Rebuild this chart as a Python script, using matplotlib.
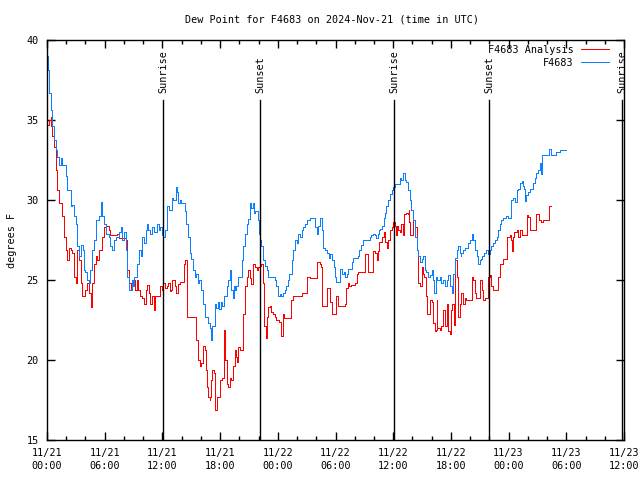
import numpy as np
import matplotlib
matplotlib.use("Agg")
import matplotlib.pyplot as plt
import matplotlib.transforms as mtransforms


# Observed dew point (F4683), hours since 11/21 00:00 UTC
obs_hours = [0, 0.1, 0.2, 0.4, 0.55, 0.73, 0.9, 1.07, 1.25, 1.5, 1.6, 1.94, 2.1, 2.46, 2.6, 2.8, 2.98,
             3.15, 3.33, 3.5, 3.7, 3.85, 4.0, 4.2, 4.37, 4.5, 4.7, 4.9, 5.06, 5.4, 5.58, 5.75, 5.9, 6.1,
             6.45, 6.6, 6.8, 6.97, 7.15, 7.5, 7.65, 7.8, 8.0, 8.2, 8.35, 8.5, 8.8, 8.9, 9.0, 9.4, 9.6,
             9.75, 9.9, 10.05, 10.25, 10.4, 10.55, 10.7, 10.9, 11.1, 11.45, 11.6, 11.8, 11.95, 12.1, 12.3,
             12.5, 12.7, 12.96, 13.1, 13.4, 13.5, 13.65, 13.8, 13.9, 14.35, 14.5, 14.7, 14.87, 15.0, 15.2,
             15.35, 15.5, 15.7, 15.85, 16.0, 16.25, 16.4, 16.75, 16.95, 17.05, 17.2, 17.47, 17.6, 17.75,
             17.9, 18.05, 18.2, 18.4, 18.7, 18.85, 19.0, 19.15, 19.3, 19.4, 19.55, 19.7, 19.9, 20.25,
             20.4, 20.6, 20.8, 20.95, 21.1, 21.25, 21.4, 21.5, 21.6, 21.97, 22.05, 22.15, 22.3, 22.5,
             22.65, 22.85, 23.0, 23.7, 23.85, 24.05, 24.2, 24.35, 24.5, 24.7, 24.9, 25.05, 25.2, 25.45,
             25.6, 25.8, 25.95, 26.1, 26.3, 26.5, 26.65, 26.8, 27.0, 27.35, 27.85, 28.04, 28.2, 28.4,
             28.55, 28.66, 28.9, 29.1, 29.3, 29.45, 29.6, 29.8, 29.95, 30.1, 30.5, 30.7, 30.85, 31.0,
             31.2, 31.35, 31.7, 31.85, 32.3, 32.45, 32.7, 32.9, 33.55, 33.7, 33.85, 34.1, 34.25, 34.4,
             34.55, 34.65, 34.8, 35.0, 35.15, 35.3, 35.5, 35.7, 35.85, 36.0, 36.2, 36.7, 36.85, 37.05,
             37.2, 37.35, 37.55, 37.75, 37.9, 38.1, 38.25, 38.45, 38.6, 38.8, 38.95, 39.1, 39.3, 39.45,
             39.65, 39.8, 40.0, 40.17, 40.25, 40.4, 40.6, 40.85, 41.0, 41.2, 41.4, 41.55, 41.75, 41.9,
             42.1, 42.25, 42.4, 42.6, 42.75, 42.9, 43.0, 43.1, 43.3, 43.5, 43.8, 43.95, 44.15, 44.3,
             44.5, 44.7, 44.85, 45.0, 45.1, 45.2, 45.4, 45.7, 45.85, 46.05, 46.2, 46.4, 46.55, 46.75,
             46.9, 47.1, 47.25, 47.4, 47.55, 47.75, 47.9, 48.3, 48.5, 48.65, 48.85, 49.0, 49.2, 49.35,
             49.5, 49.65, 49.75, 49.85, 50.0, 50.2, 50.55, 50.7, 50.9, 51.05, 51.25, 51.35, 51.45,
             52.25, 52.4, 52.95, 53.3, 54.0]
obs_dewpt = [39.0, 38.1, 36.7, 35.6, 34.6, 33.75, 33.1, 32.7, 32.2, 32.6, 32.2, 31.5, 30.6, 29.6, 29.7,
             29.0, 28.5, 27.1, 26.5, 27.2, 26.9, 25.6, 25.5, 25.0, 24.8, 25.6, 26.9, 27.5, 28.75, 29.0,
             29.9, 29.0, 28.5, 27.9, 27.7, 27.1, 26.9, 27.5, 27.7, 28.0, 28.3, 27.5, 28.0, 26.9, 25.2,
             24.4, 25.0, 24.6, 25.2, 26.0, 26.9, 26.5, 27.7, 27.3, 28.1, 28.5, 28.1, 27.9, 28.3, 28.0,
             28.5, 28.1, 28.3, 27.8, 27.7, 28.1, 29.6, 29.4, 30.1, 30.0, 30.8, 30.5, 29.8, 30.0, 29.8,
             29.3, 28.5, 27.7, 26.7, 26.3, 25.6, 25.2, 25.4, 24.8, 25.0, 24.4, 23.5, 22.7, 22.3, 22.0,
             21.25, 22.1, 23.5, 23.25, 23.6, 23.2, 23.6, 23.4, 24.0, 24.6, 25.0, 25.6, 24.4, 23.9, 24.6,
             24.4, 24.6, 25.2, 26.25, 27.1, 27.9, 28.5, 28.8, 29.8, 29.5, 29.8, 29.2, 29.3, 28.75, 27.9,
             27.5, 27.1, 26.25, 25.9, 25.6, 25.2, 25.0, 24.6, 24.0, 24.1, 24.0, 24.2, 24.4, 24.6, 25.0,
             25.4, 26.25, 26.9, 27.5, 27.3, 27.9, 27.7, 28.1, 28.3, 28.5, 28.75, 28.85, 28.3, 27.9,
             28.4, 28.85, 28.1, 27.0, 26.9, 26.7, 26.4, 26.6, 26.25, 25.8, 25.2, 24.9, 25.7, 25.4, 25.5,
             25.2, 25.4, 25.7, 26.1, 26.4, 26.5, 26.9, 27.2, 27.5, 27.7, 27.8, 27.9, 27.8, 27.6, 27.9,
             28.1, 28.2, 28.4, 28.85, 29.2, 29.6, 30.0, 30.4, 30.6, 30.8, 31.0, 31.35, 31.25, 31.7,
             31.25, 31.1, 30.6, 30.0, 29.4, 28.75, 27.7, 26.9, 26.5, 26.1, 26.3, 26.5, 25.6, 25.5, 25.2,
             25.3, 25.6, 25.0, 24.2, 25.2, 25.0, 25.2, 24.8, 25.0, 24.6, 25.0, 25.3, 24.6, 24.2, 25.4,
             26.35, 26.9, 27.1, 26.7, 26.5, 26.7, 26.9, 27.0, 27.3, 27.5, 27.9, 27.5, 26.9, 26.5, 26.0,
             26.25, 26.3, 26.5, 26.7, 26.9, 26.6, 26.9, 27.1, 27.3, 27.5, 27.7, 28.1, 28.5, 28.75,
             28.85, 28.9, 29.0, 28.85, 30.0, 30.1, 29.9, 30.6, 30.7, 31.05, 31.2, 30.9, 30.7, 29.95,
             30.3, 30.5, 30.7, 31.05, 31.35, 31.7, 31.9, 32.3, 31.6, 32.8, 33.2, 32.8, 33.0, 33.1, 33.1]

# Analysis dew point (F4683 Analysis)
ana_hours = [0, 0.2, 0.38, 0.45, 0.55, 0.72, 0.9, 1.07, 1.25, 1.6, 1.77, 1.94, 2.1, 2.27, 2.45, 2.62,
             2.8, 2.97, 3.15, 3.33, 3.5, 3.67, 4.0, 4.2, 4.37, 4.54, 4.7, 4.85, 5.06, 5.2, 5.38, 5.75,
             5.93, 6.1, 6.43, 6.6, 7.3, 7.5, 8.2, 8.35, 8.5, 8.7, 8.85, 9.2, 9.35, 9.5, 9.7, 9.9, 10.05,
             10.25, 10.4, 10.6, 10.75, 10.95, 11.1, 11.25, 11.8, 11.95, 12.1, 12.3, 12.45, 12.6, 12.75,
             12.9, 13.05, 13.3, 13.45, 13.6, 13.8, 14.2, 14.35, 14.6, 15.5, 15.75, 15.9, 16.05, 16.25,
             16.4, 16.5, 16.6, 16.75, 16.9, 17.0, 17.1, 17.2, 17.35, 17.45, 17.7, 17.95, 18.2, 18.4,
             18.55, 18.7, 18.85, 19.0, 19.15, 19.35, 19.55, 19.7, 19.8, 19.9, 20.05, 20.4, 20.6, 20.75,
             20.9, 21.1, 21.25, 21.45, 21.6, 21.8, 21.95, 22.15, 22.3, 22.5, 22.6, 22.74, 22.85, 23.0,
             23.15, 23.3, 23.5, 23.7, 23.85, 24.15, 24.3, 24.35, 24.5, 24.6, 25.4, 25.6, 26.55, 27.07,
             27.3, 28.04, 28.35, 28.45, 28.55, 28.63, 29.1, 29.4, 29.6, 30.1, 30.25, 31.0, 31.1, 31.3,
             31.45, 31.6, 32.0, 32.2, 32.35, 33.07, 33.4, 33.9, 34.15, 34.3, 34.4, 34.55, 34.8, 35.0,
             35.15, 35.35, 35.5, 35.7, 35.85, 36.0, 36.15, 36.25, 36.4, 36.5, 36.7, 36.85, 36.98, 37.1,
             37.35, 37.5, 37.6, 37.65, 37.75, 38.1, 38.25, 38.45, 38.55, 38.8, 38.95, 39.1, 39.25, 39.4,
             39.5, 39.8, 40.0, 40.17, 40.35, 40.5, 40.55, 40.6, 40.85, 41.0, 41.2, 41.35, 41.57, 41.7,
             41.9, 42.0, 42.15, 42.3, 42.4, 42.6, 42.75, 42.9, 43.1, 43.25, 43.45, 43.6, 44.15, 44.3,
             44.5, 44.65, 45.0, 45.2, 45.35, 45.55, 45.7, 45.9, 46.05, 46.2, 46.4, 46.9, 47.1, 47.45,
             47.8, 48.1, 48.25, 48.35, 48.45, 48.6, 48.85, 49.0, 49.2, 49.35, 49.9, 50.05, 50.2, 50.9,
             51.2, 51.4, 51.6, 52.2, 52.4]
ana_dewpt = [34.7, 35.0, 35.2, 34.6, 34.0, 33.3, 31.9, 30.6, 29.8, 29.0, 27.7, 26.9, 26.25, 27.0, 26.9,
             26.7, 25.2, 24.8, 26.9, 26.25, 24.8, 24.0, 24.4, 24.8, 24.2, 23.3, 24.8, 26.0, 26.5, 26.25,
             26.9, 27.7, 28.3, 28.4, 28.1, 27.8, 27.9, 27.6, 27.5, 25.6, 24.8, 24.4, 25.0, 24.4, 25.0,
             24.4, 24.0, 23.85, 23.5, 24.4, 24.7, 24.2, 23.5, 24.0, 23.1, 24.0, 24.6, 24.4, 24.8, 24.5,
             24.6, 24.8, 24.3, 24.4, 25.0, 24.6, 24.2, 24.75, 24.85, 26.0, 26.25, 22.7, 21.25, 20.0,
             19.6, 19.8, 20.9, 20.6, 19.4, 18.3, 17.7, 17.5, 17.7, 18.75, 19.4, 19.2, 16.9, 17.7, 18.75,
             18.9, 21.9, 20.0, 18.5, 18.3, 18.9, 18.75, 19.6, 20.6, 20.2, 19.9, 20.8, 20.6, 22.9, 24.6,
             25.2, 25.6, 25.1, 24.75, 26.0, 25.8, 25.6, 25.8, 25.9, 26.0, 24.8, 22.1, 21.35, 22.7, 23.3,
             23.4, 23.0, 22.85, 22.7, 22.5, 22.4, 22.1, 21.5, 22.85, 22.6, 23.75, 24.0, 24.2, 25.2,
             25.1, 26.1, 26.0, 25.8, 25.4, 23.4, 24.5, 23.6, 22.85, 24.0, 23.4, 23.5, 24.5, 24.8, 24.6,
             24.7, 24.8, 25.4, 25.5, 26.6, 25.5, 26.8, 26.7, 26.25, 26.8, 27.4, 27.7, 28.0, 27.4, 27.0,
             27.5, 28.1, 28.3, 28.6, 28.4, 27.8, 28.4, 28.1, 28.0, 28.5, 27.8, 29.1, 29.2, 29.1, 29.4,
             28.6, 27.8, 28.75, 28.3, 26.9, 24.8, 24.6, 25.8, 25.4, 25.2, 24.0, 22.9, 23.75, 23.6, 22.3,
             21.8, 21.9, 23.75, 22.0, 21.9, 22.1, 23.1, 22.1, 23.5, 21.8, 21.6, 23.1, 23.5, 22.2, 26.25,
             25.2, 22.7, 23.5, 24.2, 23.5, 23.9, 23.75, 25.2, 25.0, 24.2, 23.9, 25.0, 24.4, 23.75,
             23.85, 23.9, 25.2, 25.3, 24.6, 24.4, 25.2, 26.0, 26.3, 27.7, 27.8, 27.5, 26.8, 27.7, 28.0,
             28.1, 27.7, 28.1, 27.8, 29.05, 28.95, 28.1, 29.15, 28.75, 28.6, 28.75, 29.6, 29.6]

sun_hours = [12.06, 22.15, 36.08, 45.96, 59.8]
sun_labels = ["Sunrise", "Sunset", "Sunrise", "Sunset", "Sunrise"]

tick_hours = list(range(0, 61, 6))
tick_labels = ["11/21\n00:00", "11/21\n06:00", "11/21\n12:00", "11/21\n18:00",
               "11/22\n00:00", "11/22\n06:00", "11/22\n12:00", "11/22\n18:00",
               "11/23\n00:00", "11/23\n06:00", "11/23\n12:00"]

font = "DejaVu Sans Mono"
fs = 7.3
lw = 0.55  # one pixel wide, no antialiasing (gnuplot-like)

fig = plt.figure(figsize=(6.4, 4.8), dpi=100)
ax = fig.add_axes([47 / 640, 40 / 480, 577 / 640, 400 / 480])

ax.plot(ana_hours, ana_dewpt, color="#ff0000", lw=lw, drawstyle="steps-post",
        antialiased=False, label="F4683 Analysis")
ax.plot(obs_hours, obs_dewpt, color="#0a80ff", lw=lw, drawstyle="steps-post",
        antialiased=False, label="F4683")

# sunrise / sunset markers
trans = mtransforms.blended_transform_factory(ax.transData, ax.transAxes)
for h, lab in zip(sun_hours, sun_labels):
    ax.axvline(h, ymin=0, ymax=0.85, color="black", lw=1.0)
    ax.text(h, 0.868, lab, transform=trans, rotation=90, ha="center", va="bottom",
            family=font, fontsize=fs)

ax.set_xlim(0, 60)
ax.set_ylim(15, 40)
ax.set_xticks(tick_hours)
ax.set_xticklabels(tick_labels, family=font, fontsize=fs, linespacing=1.35)
ax.set_xticks(np.arange(0, 61, 2), minor=True)
ax.set_yticks([15, 20, 25, 30, 35, 40])
ax.set_yticklabels(["15", "20", "25", "30", "35", "40"], family=font, fontsize=fs)
ax.tick_params(which="both", direction="in", top=True, right=True, width=1.0)
ax.tick_params(which="major", length=6, pad=6)
ax.tick_params(which="minor", length=3)
for s in ax.spines.values():
    s.set_linewidth(1.0)

ax.set_ylabel("degrees F", family=font, fontsize=fs, labelpad=7)
fig.text(332 / 640, 1 - 19 / 480, "Dew Point for F4683 on 2024-Nov-21 (time in UTC)",
         ha="center", va="center", family=font, fontsize=fs)

leg = ax.legend(loc="upper right", bbox_to_anchor=((609 - 47) / 577, (440 - 45) / 400), frameon=False,
                markerfirst=False, handlelength=2.8, handletextpad=0.7, labelspacing=0.3,
                borderpad=0, borderaxespad=0, prop={"family": font, "size": fs})
for line in leg.get_lines():
    line.set_linewidth(lw)
    line.set_antialiased(False)

fig.savefig("out.png", dpi=100)
